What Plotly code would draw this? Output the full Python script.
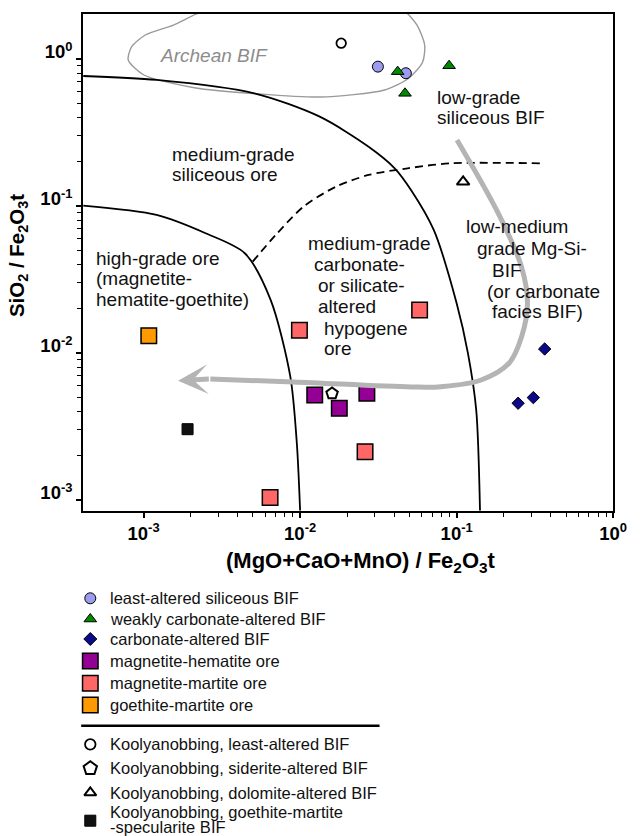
import plotly.graph_objects as go
import numpy as np

W, H = 644, 836
FONT = "Liberation Sans, Arial, Helvetica, sans-serif"

# ---------------- data ----------------
# least-altered siliceous BIF
la_x = [0.0314, 0.0474]
la_y = [0.887, 0.80]
# weakly carbonate-altered BIF
wc_x = [0.042, 0.0468, 0.0895]
wc_y = [0.82, 0.584, 0.90]
# carbonate-altered BIF
ca_x = [0.365, 0.247, 0.309]
ca_y = [0.01064, 0.00455, 0.00497]
# magnetite-hematite ore
mh_x = [0.0124, 0.0178, 0.0267]
mh_y = [0.00518, 0.0042, 0.00532]
# magnetite-martite ore
mm_x = [0.0099, 0.058, 0.026, 0.00643]
mm_y = [0.0143, 0.0196, 0.00213, 0.00104]
# goethite-martite ore
gm_x = [0.00108]
gm_y = [0.0131]
# Koolyanobbing samples
kl_x, kl_y = [0.0183], [1.28]      # least-altered BIF
ks_x, ks_y = [0.016], [0.0053]     # siderite-altered BIF
kd_x, kd_y = [0.110], [0.146]      # dolomite-altered BIF
kg_x, kg_y = [0.00191], [0.00303]  # goethite-martite-specularite BIF

inner_x = [0.000411, 0.00121, 0.00249, 0.00443, 0.00649, 0.00866, 0.00953, 0.0100]
inner_y = [0.1005, 0.0869, 0.0652, 0.0477, 0.0229, 0.0069, 0.00243, 0.000845]
outer_x = [0.000411, 0.00121, 0.0051, 0.01334, 0.0274, 0.0402, 0.0511, 0.0714, 0.100, 0.1181, 0.1334, 0.141]
outer_y = [0.766, 0.720, 0.584, 0.405, 0.253, 0.1805, 0.1285, 0.0687, 0.0218, 0.00995, 0.00409, 0.000845]
dash_x = [0.00498, 0.00714, 0.0105, 0.01695, 0.0274, 0.0487, 0.0908, 0.346]
dash_y = [0.0418, 0.0652, 0.0989, 0.1353, 0.1625, 0.1805, 0.195, 0.195]
# Archean BIF field outline
arch_x = [0.000798, 0.001004, 0.002153, 0.005104, 0.0134, 0.03461, 0.04966, 0.06067, 0.06246,
          0.05572, 0.0455, 0.0287, 0.0105, 0.00383, 0.00218, 0.00155, 0.00102, 0.000838, 0.000798]
arch_y = [0.984, 0.778, 0.635, 0.582, 0.551, 0.615, 0.743, 0.954, 1.245,
          1.703, 2.155, 2.52, 2.725, 2.443, 2.024, 1.700, 1.450, 1.207, 0.984]
# alteration trend arrow (last point = arrow tip)
arrow_x = [0.1005, 0.1866, 0.2597, 0.2835, 0.2597, 0.2168, 0.1435, 0.0796, 0.0511, 0.00908, 0.00267, 0.00166]
arrow_y = [0.281, 0.0869, 0.0385, 0.0219, 0.01285, 0.00855, 0.00655, 0.0059, 0.00587, 0.00635, 0.00665, 0.00648]

major_ticks = [0.001, 0.01, 0.1, 1]
major_text = ["10<sup>-3</sup>", "10<sup>-2</sup>", "10<sup>-1</sup>", "10<sup>0</sup>"]
minor_ticks = [d * 10.0 ** k for k in (-3, -2, -1) for d in range(2, 10)]

# ---------------- figure ----------------
fig = go.Figure()


def line(xs, ys, color, width, dash="solid", smooth=1.0):
    fig.add_trace(go.Scatter(x=xs, y=ys, mode="lines", hoverinfo="skip", showlegend=False,
                             line=dict(color=color, width=width, dash=dash, shape="spline",
                                       smoothing=smooth, simplify=False)))


def pts(xs, ys, symbol, size, fill, lw=1.0, lc="black", xa="x", ya="y"):
    fig.add_trace(go.Scatter(x=xs, y=ys, mode="markers", hoverinfo="skip", showlegend=False,
                             xaxis=xa, yaxis=ya, cliponaxis=False,
                             marker=dict(symbol=symbol, size=size, color=fill,
                                         line=dict(color=lc, width=lw))))


line(arch_x, arch_y, "#9a9a9a", 1.4, smooth=0.7)
line(inner_x, inner_y, "black", 1.8, smooth=0.8)
line(outer_x, outer_y, "black", 1.8, smooth=0.8)
line(dash_x, dash_y, "black", 1.8, dash="8px,5px", smooth=0.8)

pts(mm_x, mm_y, "square", 15.5, "#ff6666", 1.5)
pts(mh_x, mh_y, "square", 15.5, "#930093", 1.5)
pts(gm_x, gm_y, "square", 15.5, "#ff9900", 1.5)

line(arrow_x[:-1], arrow_y[:-1], "#b4b4b4", 5, smooth=1.0)

pts(kg_x, kg_y, "square", 11, "#111111", 1)
pts(la_x, la_y, "circle", 11, "#9b9bf0", 1)
pts(wc_x, wc_y, "triangle-up", 11, "#008a00", 1)
pts(ca_x, ca_y, "diamond", 9.5, "#0a0a8a", 1)
pts(kl_x, kl_y, "circle", 9.5, "white", 1.8)
pts(ks_x, ks_y, "pentagon", 12, "white", 2)
pts(kd_x, kd_y, "triangle-up", 11, "white", 2)

# arrow head
fig.add_annotation(xref="x", yref="y", axref="x", ayref="y",
                   x=np.log10(arrow_x[-1]), y=np.log10(arrow_y[-1]),
                   ax=np.log10(arrow_x[-2]), ay=np.log10(arrow_y[-2]),
                   text="", showarrow=True, arrowhead=3, arrowsize=1.0,
                   arrowwidth=5, arrowcolor="#b4b4b4")


def px_x(p):
    return p / W


def px_y(p):
    return 1 - p / H


# region labels: text, left px, baseline px
labels = [
    ("low-grade", 446, 104.5),
    ("siliceous BIF", 446, 124.5),
    ("medium-grade", 175, 160.7),
    ("siliceous ore", 175, 180.7),
    ("high-grade ore", 97, 265),
    ("(magnetite-", 97, 285.5),
    ("hematite-goethite)", 97, 306),
    ("medium-grade", 314, 250),
    ("carbonate-", 319.5, 271),
    ("or silicate-", 324.5, 291.7),
    ("altered", 324.5, 313),
    ("hypogene", 330, 335),
    ("ore", 330, 355),
    ("low-medium", 475, 233.3),
    ("grade Mg-Si-", 486.7, 255),
    ("BIF", 501.7, 276.7),
    ("(or carbonate", 496.5, 298),
    ("facies BIF)", 501.7, 318.3),
]
FS = 19
for t, lx, bl in labels:
    fig.add_annotation(text=t, xref="paper", yref="paper", x=px_x(lx), y=px_y(bl - 0.3465 * FS),
                       xanchor="left", yanchor="middle", showarrow=False, borderpad=0,
                       font=dict(family=FONT, size=FS, color="#111111"))
fig.add_annotation(text="Archean BIF", xref="paper", yref="paper", x=px_x(163), y=px_y(61.7 - 0.3465 * FS),
                   xanchor="left", yanchor="middle", showarrow=False, borderpad=0,
                   font=dict(family=FONT, size=FS, color="#8c8c8c", style="italic"))

# axis titles
fig.add_annotation(text="(MgO+CaO+MnO) / Fe<sub>2</sub>O<sub>3</sub>t", xref="paper", yref="paper",
                   x=px_x(369), y=px_y(562), xanchor="center", yanchor="middle", showarrow=False,
                   font=dict(family=FONT, size=22, color="black", weight="bold"))
fig.add_annotation(text="SiO<sub>2</sub> / Fe<sub>2</sub>O<sub>3</sub>t", xref="paper", yref="paper",
                   x=px_x(18), y=px_y(255.5), xanchor="center", yanchor="middle", showarrow=False,
                   textangle=-90, font=dict(family=FONT, size=20.5, color="black", weight="bold"))

# ---------------- custom legend ----------------
LX = 92.3
legend_rows = [
    ("circle", 11, "#9b9bf0", 1, 598.3, ["least-altered siliceous BIF"]),
    ("triangle-up", 11, "#008a00", 1, 619, ["weakly carbonate-altered BIF"]),
    ("diamond", 10, "#0a0a8a", 1, 639, ["carbonate-altered BIF"]),
    ("square", 15.5, "#930093", 1.5, 661, ["magnetite-hematite ore"]),
    ("square", 15.5, "#ff6666", 1.5, 683.3, ["magnetite-martite ore"]),
    ("square", 15.5, "#ff9900", 1.5, 705, ["goethite-martite ore"]),
    ("circle", 10.5, "white", 1.8, 744.3, ["Koolyanobbing, least-altered BIF"]),
    ("pentagon", 14, "white", 2, 768.3, ["Koolyanobbing, siderite-altered BIF"]),
    ("triangle-up", 10.5, "white", 2, 792.7, ["Koolyanobbing, dolomite-altered BIF"]),
    ("square", 11, "#111111", 1, 820.7, ["Koolyanobbing, goethite-martite", "-specularite BIF"]),
]
LFS = 16.5
for sym, sz, fill, lw, yc, texts in legend_rows:
    pts([LX], [yc], sym, sz, fill, lw, xa="x2", ya="y2")
    if len(texts) == 1:
        ys = [yc]
    else:
        ys = [yc - 9, yc + 6.5]
    for t, yy in zip(texts, ys):
        fig.add_annotation(text=t, xref="x2", yref="y2", x=111, y=yy, xanchor="left", yanchor="middle",
                           showarrow=False, borderpad=0, font=dict(family=FONT, size=LFS, color="#111111"))

fig.add_shape(type="line", xref="x2", yref="y2", x0=83, x1=388, y0=725.7, y1=725.7,
              line=dict(color="black", width=2.5))

axis_common = dict(
    type="log", tickmode="array", tickvals=major_ticks, ticktext=major_text,
    ticks="outside", ticklen=5, tickwidth=1.5, tickcolor="black",
    showline=True, linewidth=2, linecolor="black", mirror=True,
    showgrid=False, zeroline=False,
    tickfont=dict(family=FONT, size=18.5, color="black", weight="bold"),
    minor=dict(tickmode="array", tickvals=minor_ticks, ticks="outside", ticklen=4,
               tickwidth=1.2, tickcolor="black", showgrid=False),
)

fig.update_layout(
    width=W, height=H, margin=dict(l=0, r=0, t=0, b=0),
    paper_bgcolor="white", plot_bgcolor="rgba(0,0,0,0)", showlegend=False,
    xaxis=dict(axis_common, range=[-3.386, 0], domain=[85 / W, 626.8 / W], anchor="y"),
    yaxis=dict(axis_common, range=[-3.073, 0.306], domain=[1 - 510.7 / H, 1 - 14 / H], anchor="x",
               ticklabelshift=-7),
    xaxis2=dict(range=[0, W], domain=[0, 1], visible=False, anchor="y2"),
    yaxis2=dict(range=[H, 585], domain=[0, (H - 585) / H], visible=False, anchor="x2"),
)

fig.write_html("out.html")
